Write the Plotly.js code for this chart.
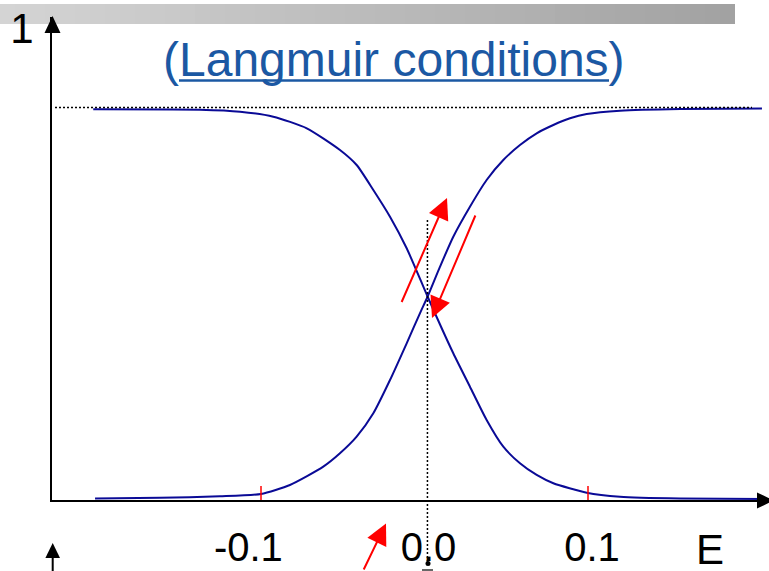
<!DOCTYPE html>
<html>
<head>
<meta charset="utf-8">
<script src="https://cdn.plot.ly/plotly-3.0.1.min.js"></script>
<style>
  html, body { margin: 0; padding: 0; background: #ffffff; }
  #chart { width: 769px; height: 571px; }
</style>
</head>
<body>
<div id="chart"></div>
<script>
// Potential E (V) and fractional coverage of the two adsorbed forms
const E_rise = [-0.2015, -0.1618, -0.1251, -0.1000, -0.0823, -0.0619, -0.0517, -0.0415, -0.0313,
                -0.0211, -0.0109, -0.0028, 0.0018, 0.0095, 0.0176, 0.0278, 0.0380, 0.0482,
                0.0584, 0.0686, 0.0788, 0.0890, 0.0992, 0.1196, 0.1563, 0.2064];
const theta_rise = [0.0032, 0.0047, 0.0078, 0.0127, 0.0318, 0.0706, 0.0989, 0.1341, 0.1837,
                    0.2542, 0.3320, 0.3956, 0.4301, 0.4943, 0.5578, 0.6214, 0.6780, 0.7203,
                    0.7521, 0.7769, 0.7945, 0.8087, 0.8178, 0.8248, 0.8284, 0.8294];

const E_fall = [-0.2026, -0.1373, -0.1128, -0.0925, -0.0720, -0.0517, -0.0415, -0.0313, -0.0211,
                -0.0109, -0.0007, 0.0020, 0.0176, 0.0278, 0.0380, 0.0482, 0.0584, 0.0686,
                0.0788, 0.0992, 0.1196, 0.1563, 0.2107];
const theta_fall = [0.8278, 0.8269, 0.8227, 0.8121, 0.7875, 0.7415, 0.7097, 0.6568, 0.6002,
                    0.5333, 0.4519, 0.4301, 0.3108, 0.2400, 0.1695, 0.1129, 0.0778, 0.0530,
                    0.0354, 0.0155, 0.0070, 0.0032, 0.0021];

// Saturation coverage, formal potential and marked potentials
const theta_max = 0.8316;
const E_formal = 0.0018;
const E_marks = [-0.1, 0.1];

// Axis ticks
const xTickVals = [-0.1, 0.0, 0.1];
const xTickText = ['-0.1\u00a0\u00a0\u00a0', '0.0', '0.1'];
const yTickVals = [1];
const yTickText = ['1'];

const W = 769, H = 571;
const M = { l: 52, r: 0, t: 17, b: 71 };
const xRange = [(M.l - 424.5) / 1635, (W - 424.5) / 1635];
const yRange = [0, (H - M.b - M.t) / 472];

// pixel -> paper helpers for the decorations around the plot
const PX = x => (x - M.l) / (W - M.l - M.r);
const PY = y => (H - M.b - y) / (H - M.t - M.b);

const navy = '#0a0a96';
const red = '#ff0000';
const titleBlue = '#1b58a3';

const traces = [
  { x: E_rise, y: theta_rise, mode: 'lines', line: { color: navy, width: 2, shape: 'spline', smoothing: 0.6 }, hoverinfo: 'skip' },
  { x: E_fall, y: theta_fall, mode: 'lines', line: { color: navy, width: 2, shape: 'spline', smoothing: 0.6 }, hoverinfo: 'skip' }
];

const shapes = [];

// grey header band with a horizontal shade
const bandLeft = 0, bandRight = 735, strips = 49;
for (let i = 0; i < strips; i++) {
  const x0 = bandLeft + (bandRight - bandLeft) * i / strips;
  const x1 = bandLeft + (bandRight - bandLeft) * (i + 1) / strips + 0.6;
  const g = Math.round(212 - (212 - 162) * i / (strips - 1));
  shapes.push({ type: 'rect', xref: 'paper', yref: 'paper',
    x0: PX(x0), x1: PX(Math.min(x1, bandRight)), y0: PY(24), y1: PY(4),
    fillcolor: `rgb(${g},${g},${g})`, line: { width: 0 }, layer: 'below' });
}

// saturation level
shapes.push({ type: 'line', xref: 'paper', yref: 'y', x0: PX(55), x1: PX(752), y0: theta_max, y1: theta_max,
  line: { color: '#000000', width: 1.5, dash: '2px,2px' } });

// formal potential marker line
shapes.push({ type: 'line', xref: 'x', yref: 'paper', x0: E_formal, x1: E_formal, y0: PY(220), y1: PY(562),
  line: { color: '#000000', width: 1.5, dash: '2px,2px' } });

// red marks on the curves at +/-0.1 V
E_marks.forEach(e => {
  shapes.push({ type: 'line', xref: 'x', yref: 'paper', x0: e, x1: e, y0: PY(486), y1: PY(500),
    line: { color: red, width: 1.5 } });
});

// arrowheads on the axes
shapes.push({ type: 'path', xref: 'paper', yref: 'paper',
  path: `M${PX(52.5)},${PY(16)} L${PX(60.5)},${PY(33)} L${PX(44.5)},${PY(33)} Z`,
  fillcolor: '#000000', line: { width: 0 } });
shapes.push({ type: 'path', xref: 'paper', yref: 'paper',
  path: `M${PX(774)},${PY(500.5)} L${PX(757)},${PY(492.5)} L${PX(757)},${PY(508.5)} Z`,
  fillcolor: '#000000', line: { width: 0 } });

// axis stub of the panel below
shapes.push({ type: 'line', xref: 'paper', yref: 'paper', x0: PX(52.7), x1: PX(52.7), y0: PY(556), y1: PY(575),
  line: { color: '#000000', width: 2 } });
shapes.push({ type: 'path', xref: 'paper', yref: 'paper',
  path: `M${PX(52.7)},${PY(543)} L${PX(60)},${PY(558)} L${PX(45.4)},${PY(558)} Z`,
  fillcolor: '#000000', line: { width: 0 } });
shapes.push({ type: 'circle', xref: 'paper', yref: 'paper',
  x0: PX(425.5), x1: PX(430.5), y0: PY(566), y1: PY(561), fillcolor: '#000000', line: { width: 0 } });
shapes.push({ type: 'line', xref: 'paper', yref: 'paper', x0: PX(422), x1: PX(433), y0: PY(570), y1: PY(570),
  line: { color: '#000000', width: 1.2 } });

// title underline
shapes.push({ type: 'line', xref: 'paper', yref: 'paper', x0: PX(179), x1: PX(609), y0: PY(80.5), y1: PY(80.5),
  line: { color: titleBlue, width: 2.5 } });

const annotations = [
  { text: '(Langmuir conditions)', xref: 'paper', yref: 'paper', x: PX(393.5), y: PY(59),
    xanchor: 'center', yanchor: 'middle', showarrow: false,
    font: { family: 'Liberation Sans, Arial, sans-serif', size: 48, color: titleBlue } },
  { text: 'E', xref: 'paper', yref: 'paper', x: PX(710), y: PY(549), height: 40,
    xanchor: 'center', yanchor: 'middle', valign: 'middle', showarrow: false,
    font: { family: 'Liberation Sans, Arial, sans-serif', size: 42, color: '#000000' } },
  // potential sweep directions
  { x: 0.01376, y: 0.6398, xref: 'x', yref: 'y', ax: -46, ay: 105.5, text: '', showarrow: true,
    arrowcolor: red, arrowwidth: 2, arrowhead: 2, arrowsize: 2.1 },
  { x: 0.00459, y: 0.3856, xref: 'x', yref: 'y', ax: 44, ay: -104, text: '', showarrow: true,
    arrowcolor: red, arrowwidth: 2, arrowhead: 2, arrowsize: 2.1 },
  { x: PX(386), y: PY(523.5), xref: 'paper', yref: 'paper', ax: -23, ay: 52, text: '', showarrow: true,
    arrowcolor: red, arrowwidth: 2, arrowhead: 2, arrowsize: 2.1 }
];

const layout = {
  width: W, height: H,
  margin: { l: M.l, r: M.r, t: M.t, b: M.b, pad: 0 },
  paper_bgcolor: '#ffffff', plot_bgcolor: 'rgba(0,0,0,0)',
  showlegend: false,
  font: { family: 'Liberation Sans, Arial, sans-serif', color: '#000000' },
  xaxis: {
    range: xRange, showgrid: false, zeroline: false,
    showline: true, linecolor: '#000000', linewidth: 2,
    tickmode: 'array', tickvals: xTickVals, ticktext: xTickText,
    ticks: '', ticklabelstandoff: 11, ticklabelshift: 4,
    tickfont: { size: 40, color: '#000000' }, fixedrange: true
  },
  yaxis: {
    range: yRange, showgrid: false, zeroline: false,
    showline: true, linecolor: '#000000', linewidth: 2,
    tickmode: 'array', tickvals: yTickVals, ticktext: yTickText,
    ticks: '', ticklabelstandoff: 8,
    tickfont: { size: 42, color: '#000000' }, fixedrange: true
  },
  shapes: shapes,
  annotations: annotations
};

Plotly.newPlot('chart', traces, layout, { staticPlot: true, displayModeBar: false });
</script>
</body>
</html>
